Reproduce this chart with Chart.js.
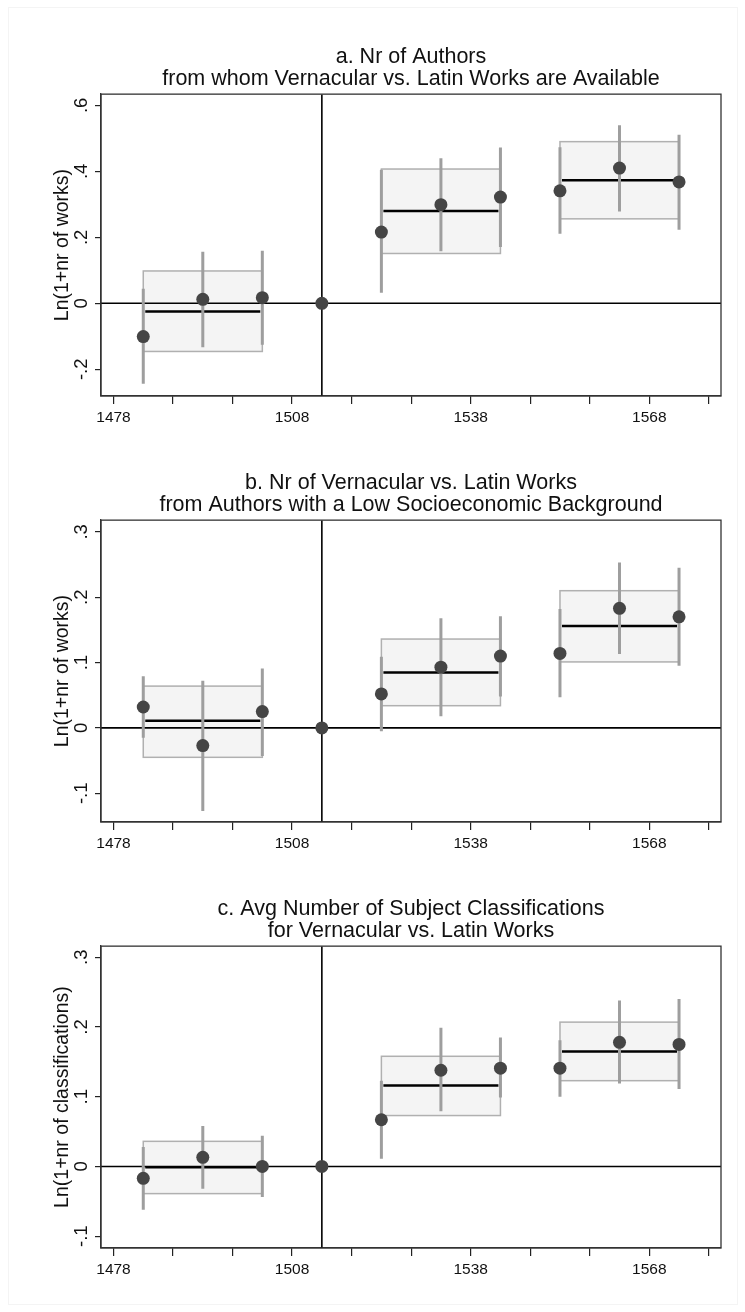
<!DOCTYPE html>
<html>
<head>
<meta charset="utf-8">
<script src="https://cdn.jsdelivr.net/npm/chart.js@4.4.1/dist/chart.umd.min.js"></script>
<style>
  body { margin: 0; background: #fff; }
  #page { position: relative; width: 745px; height: 1312px; }
  #frame { position: absolute; left: 8px; top: 7px; width: 728px; height: 1296px; border: 1px solid #f4f4f4; }
  canvas { position: absolute; left: 0; }
</style>
</head>
<body>
<div id="page">
  <div id="frame"></div>
  <canvas id="panelA" width="745" height="426" style="top:12px"></canvas>
  <canvas id="panelB" width="745" height="426" style="top:438px"></canvas>
  <canvas id="panelC" width="745" height="426" style="top:864px"></canvas>
</div>
<script>
// years of the coefficients, 1513 is the reference year
var years = [1483, 1493, 1503, 1513, 1523, 1533, 1543, 1553, 1563, 1573];
var refYear = 1513;
var xTicks = [1478, 1488, 1498, 1508, 1518, 1528, 1538, 1548, 1558, 1568, 1578];
var xLabels = [1478, 1508, 1538, 1568];
var boxStart = [1483, 1523, 1553];
var boxEnd = [1503, 1543, 1573];

// a. Nr of Authors
var coefA = [-0.101, 0.012, 0.017, 0, 0.216, 0.299, 0.322, 0.341, 0.410, 0.368];
var ciLoA = [-0.244, -0.133, -0.126, null, 0.032, 0.158, 0.171, 0.211, 0.278, 0.223];
var ciHiA = [0.044, 0.156, 0.159, null, 0.405, 0.440, 0.472, 0.473, 0.540, 0.511];
var boxLoA = [-0.146, 0.151, 0.256];
var boxHiA = [0.098, 0.407, 0.490];
var boxMeanA = [-0.025, 0.280, 0.373];
var yTicksA = [-0.2, 0, 0.2, 0.4, 0.6];

// b. Low socioeconomic background
var coefB = [0.032, -0.027, 0.025, 0, 0.052, 0.093, 0.110, 0.114, 0.183, 0.170];
var ciLoB = [-0.015, -0.127, -0.043, null, -0.005, 0.018, 0.048, 0.047, 0.113, 0.095];
var ciHiB = [0.079, 0.072, 0.091, null, 0.109, 0.168, 0.171, 0.182, 0.253, 0.245];
var boxLoB = [-0.045, 0.034, 0.101];
var boxHiB = [0.064, 0.136, 0.210];
var boxMeanB = [0.011, 0.085, 0.156];
var yTicksB = [-0.1, 0, 0.1, 0.2, 0.3];

// c. Subject classifications
var coefC = [-0.017, 0.013, 0.000, 0, 0.067, 0.138, 0.141, 0.141, 0.178, 0.175];
var ciLoC = [-0.062, -0.032, -0.044, null, 0.011, 0.079, 0.099, 0.100, 0.119, 0.111];
var ciHiC = [0.028, 0.058, 0.044, null, 0.123, 0.199, 0.185, 0.181, 0.238, 0.240];
var boxLoC = [-0.039, 0.073, 0.123];
var boxHiC = [0.036, 0.158, 0.207];
var boxMeanC = [-0.001, 0.116, 0.165];
var yTicksC = [-0.1, 0, 0.1, 0.2, 0.3];

var FONT = "'Liberation Sans', Arial, sans-serif";

function fmtY(v) {
    if (v == 0) return "0";
    return String(+v.toFixed(2)).replace("0.", ".");
}

// boxes, mean lines, reference lines and confidence intervals
var marksPlugin = {
    id: "marks",
    beforeDatasetsDraw: function (chart) {
        var o = chart.options.plugins.marks;
        var ctx = chart.ctx, a = chart.chartArea;
        var x = chart.scales.x, y = chart.scales.y;
        ctx.save();
        ctx.beginPath();
        ctx.rect(a.left, a.top, a.width, a.height);
        ctx.clip();

        for (var i = 0; i < boxStart.length; i++) {
            var x1 = x.getPixelForValue(boxStart[i]);
            var x2 = x.getPixelForValue(boxEnd[i]);
            var yTop = y.getPixelForValue(o.boxHi[i]);
            var yBot = y.getPixelForValue(o.boxLo[i]);
            ctx.fillStyle = "#f4f4f4";
            ctx.fillRect(x1, yTop, x2 - x1, yBot - yTop);
            ctx.strokeStyle = "#b0b0b0";
            ctx.lineWidth = 1.5;
            ctx.strokeRect(x1, yTop, x2 - x1, yBot - yTop);
            var ym = y.getPixelForValue(o.boxMean[i]);
            ctx.strokeStyle = "#000";
            ctx.lineWidth = 2.5;
            ctx.beginPath();
            ctx.moveTo(x1 + 2, ym);
            ctx.lineTo(x2 - 2, ym);
            ctx.stroke();
        }

        // zero line and reference year
        ctx.strokeStyle = "#000";
        ctx.lineWidth = 1.6;
        var y0 = y.getPixelForValue(0);
        ctx.beginPath();
        ctx.moveTo(a.left, y0);
        ctx.lineTo(a.right, y0);
        ctx.stroke();
        var xr = x.getPixelForValue(refYear);
        ctx.beginPath();
        ctx.moveTo(xr, a.top);
        ctx.lineTo(xr, a.bottom);
        ctx.stroke();

        // confidence intervals
        ctx.strokeStyle = "#9e9e9e";
        ctx.lineWidth = 3;
        for (var j = 0; j < years.length; j++) {
            if (o.ciLo[j] == null) continue;
            var xp = x.getPixelForValue(years[j]);
            ctx.beginPath();
            ctx.moveTo(xp, y.getPixelForValue(o.ciLo[j]));
            ctx.lineTo(xp, y.getPixelForValue(o.ciHi[j]));
            ctx.stroke();
        }
        ctx.restore();
    },
    afterDraw: function (chart) {
        var ctx = chart.ctx, a = chart.chartArea;
        ctx.save();
        ctx.strokeStyle = "#333";
        ctx.lineWidth = 1.3;
        ctx.strokeRect(a.left, a.top, a.width, a.height);
        ctx.restore();
    }
};

function makePanel(id, title, yTitle, coef, ciLo, ciHi, boxLo, boxHi, boxMean, yTicks, yMin, yMax) {
    var pts = years.map(function (yr, i) { return { x: yr, y: coef[i] }; });
    return new Chart(document.getElementById(id), {
        type: "scatter",
        data: {
            datasets: [{
                data: pts,
                pointRadius: 6.5,
                pointHoverRadius: 6.5,
                backgroundColor: "#454545",
                borderWidth: 0
            }]
        },
        options: {
            responsive: false,
            animation: false,
            layout: { padding: { left: 0, right: 24, top: 0, bottom: 0 } },
            plugins: {
                legend: { display: false },
                tooltip: { enabled: false },
                title: {
                    display: true,
                    fullSize: false,
                    text: title,
                    color: "#111",
                    font: { family: FONT, size: 21.5, weight: "normal", lineHeight: 0.98 },
                    padding: { top: 35, bottom: 5 }
                },
                marks: { ciLo: ciLo, ciHi: ciHi, boxLo: boxLo, boxHi: boxHi, boxMean: boxMean }
            },
            scales: {
                x: {
                    type: "linear",
                    min: 1475.9,
                    max: 1580.05,
                    afterBuildTicks: function (s) {
                        s.ticks = xTicks.map(function (v) { return { value: v }; });
                    },
                    afterFit: function (s) { s.height = 42; },
                    ticks: {
                        autoSkip: false,
                        maxRotation: 0,
                        padding: 4,
                        color: "#111",
                        font: { family: FONT, size: 15.5 },
                        callback: function (v) { return xLabels.indexOf(v) >= 0 ? String(v) : ""; }
                    },
                    grid: { drawOnChartArea: false, drawTicks: true, tickLength: 8, color: "#222", lineWidth: 1.2 },
                    border: { display: true, color: "#333", width: 1.3 }
                },
                y: {
                    type: "linear",
                    min: yMin,
                    max: yMax,
                    afterBuildTicks: function (s) {
                        s.ticks = yTicks.map(function (v) { return { value: v }; });
                    },
                    afterFit: function (s) { s.width = 101; },
                    ticks: {
                        minRotation: 90,
                        maxRotation: 90,
                        crossAlign: "center",
                        padding: 2,
                        color: "#111",
                        font: { family: FONT, size: 18.5 },
                        callback: fmtY
                    },
                    grid: { drawOnChartArea: false, drawTicks: true, tickLength: 6, color: "#222", lineWidth: 1.2 },
                    border: { display: true, color: "#333", width: 1.3 },
                    title: {
                        display: true,
                        text: yTitle,
                        color: "#111",
                        font: { family: FONT, size: 19.5, weight: "normal" },
                        padding: { top: 51, bottom: 0 }
                    }
                }
            }
        },
        plugins: [marksPlugin]
    });
}

makePanel("panelA",
    ["a. Nr of Authors", "from whom Vernacular vs. Latin Works are Available"],
    "Ln(1+nr of works)",
    coefA, ciLoA, ciHiA, boxLoA, boxHiA, boxMeanA, yTicksA, -0.281, 0.634);

makePanel("panelB",
    ["b. Nr of Vernacular vs. Latin Works", "from Authors with a Low Socioeconomic Background"],
    "Ln(1+nr of works)",
    coefB, ciLoB, ciHiB, boxLoB, boxHiB, boxMeanB, yTicksB, -0.144, 0.318);

makePanel("panelC",
    ["c. Avg Number of Subject Classifications", "for Vernacular vs. Latin Works"],
    "Ln(1+nr of classifications)",
    coefC, ciLoC, ciHiC, boxLoC, boxHiC, boxMeanC, yTicksC, -0.117, 0.316);
</script>
</body>
</html>
